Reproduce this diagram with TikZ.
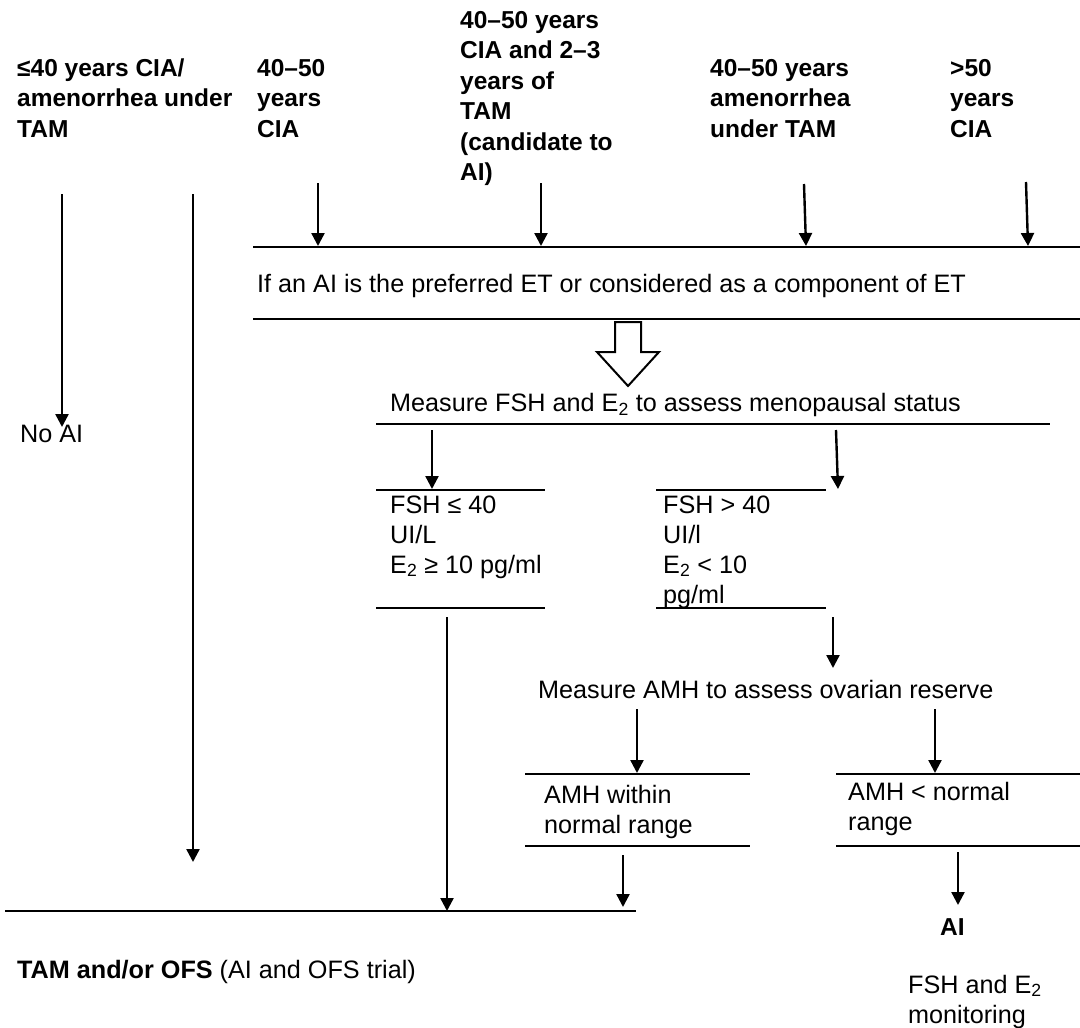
\documentclass[tikz,border=0pt]{standalone}
\usepackage{fontspec}
\setmainfont{Liberation Sans}
\usetikzlibrary{arrows.meta}
\newcommand\headfont{\fontsize{24.5}{30.5}\bfseries\selectfont}
\newcommand\bodyfont{\fontsize{25.2}{30}\selectfont}
% stacked lines whose reference point is the first baseline
\newcommand\lines[1]{\begin{tabular}[t]{@{}l@{}}#1\end{tabular}}
\begin{document}
\begin{tikzpicture}[x=1pt,y=-1pt,
  arr/.style={-{Triangle[length=13pt,width=13pt]}, line width=2.4pt},
  rule/.style={line width=2.2pt},
  hdr/.style={font=\headfont, anchor=base west, inner sep=0pt},
  txt/.style={font=\bodyfont, anchor=base west, inner sep=0pt}]
\useasboundingbox (0,0) rectangle (1080,1028);

% patient groups
\node[hdr] (g1) at (17,76)  {\lines{≤40 years CIA/\\amenorrhea under\\TAM}};
\node[hdr] (g2) at (257,76) {\lines{40–50\\years\\CIA}};
\node[hdr] (g3) at (460,28) {\lines{40–50 years\\CIA and 2–3\\years of\\TAM\\(candidate to\\AI)}};
\node[hdr] (g4) at (710,76) {\lines{40–50 years\\amenorrhea\\under TAM}};
\node[hdr] (g5) at (950,76) {\lines{>50\\years\\CIA}};

% AI decision band
\coordinate (bandTL) at (253,247);
\coordinate (bandTR) at (1080,247);
\coordinate (bandBL) at (253,319);
\coordinate (bandBR) at (1080,319);
\draw[rule] (bandTL) -- (bandTR);
\draw[rule] (bandBL) -- (bandBR);
\node[txt] (band) at (257,292) {If an AI is the preferred ET or considered as a component of ET};

\coordinate (a2s) at (318,183);  \coordinate (a2e) at (318,246);
\coordinate (a3s) at (541,183);  \coordinate (a3e) at (541,246);
\coordinate (a4s) at (804,184);  \coordinate (a4e) at (806,246);
\coordinate (a5s) at (1026,182); \coordinate (a5e) at (1028,246);
\draw[arr] (a2s) -- (a2e);
\draw[arr] (a3s) -- (a3e);
\draw[arr] (a4s) -- (a4e);
\draw[arr] (a5s) -- (a5e);

% left-hand pathways
\coordinate (l1s) at (62,194);  \coordinate (l1e) at (62,427);
\coordinate (l2s) at (193,194); \coordinate (l2e) at (193,862);
\draw[arr] (l1s) -- (l1e);
\draw[arr] (l2s) -- (l2e);
\node[txt] (noai) at (20,442) {No AI};

% hollow block arrow
\draw[line width=2pt, line join=miter, fill=white]
  (615,322) -- (641,322) -- (641,352) -- (659,352) -- (628,386)
  -- (597,352) -- (615,352) -- cycle;

% menopausal status
\node[txt] (fsh) at (390,411.5) {Measure FSH and E\textsubscript{2} to assess menopausal status};
\coordinate (fshL) at (376,424); \coordinate (fshR) at (1050,424);
\draw[rule] (fshL) -- (fshR);
\coordinate (f1s) at (432,430); \coordinate (f1e) at (432,489);
\coordinate (f2s) at (836,430); \coordinate (f2e) at (838,489);
\draw[arr] (f1s) -- (f1e);
\draw[arr] (f2s) -- (f2e);

% FSH <= 40 box
\coordinate (p1TL) at (376,490); \coordinate (p1TR) at (545,490);
\coordinate (p1BL) at (376,608); \coordinate (p1BR) at (545,608);
\draw[rule] (p1TL) -- (p1TR);
\draw[rule] (p1BL) -- (p1BR);
\node[txt] (pre) at (390,513) {\lines{FSH ≤ 40\\UI/L\\E\textsubscript{2} ≥ 10 pg/ml}};

% FSH > 40 box
\coordinate (p2TL) at (656,490); \coordinate (p2TR) at (826,490);
\coordinate (p2BL) at (656,608); \coordinate (p2BR) at (826,608);
\draw[rule] (p2TL) -- (p2TR);
\draw[rule] (p2BL) -- (p2BR);
\node[txt] (post) at (663,513) {\lines{FSH > 40\\UI/l\\E\textsubscript{2} < 10\\pg/ml}};

\coordinate (p1s) at (447,617); \coordinate (p1e) at (447,911);
\coordinate (p2s) at (833,617); \coordinate (p2e) at (833,668);
\draw[arr] (p1s) -- (p1e);
\draw[arr] (p2s) -- (p2e);

% ovarian reserve
\node[txt] (amh) at (538,698) {Measure AMH to assess ovarian reserve};
\coordinate (m1s) at (637,709); \coordinate (m1e) at (637,773);
\coordinate (m2s) at (935,709); \coordinate (m2e) at (935,773);
\draw[arr] (m1s) -- (m1e);
\draw[arr] (m2s) -- (m2e);

\coordinate (r1TL) at (525,774); \coordinate (r1TR) at (750,774);
\coordinate (r1BL) at (525,846); \coordinate (r1BR) at (750,846);
\draw[rule] (r1TL) -- (r1TR);
\draw[rule] (r1BL) -- (r1BR);
\node[txt] (normal) at (544,803) {\lines{AMH within\\normal range}};

\coordinate (r2TL) at (836,774); \coordinate (r2TR) at (1080,774);
\coordinate (r2BL) at (836,846); \coordinate (r2BR) at (1080,846);
\draw[rule] (r2TL) -- (r2TR);
\draw[rule] (r2BL) -- (r2BR);
\node[txt] (low) at (848,800) {\lines{AMH < normal\\range}};

\coordinate (n1s) at (623,855); \coordinate (n1e) at (623,907);
\coordinate (n2s) at (958,852); \coordinate (n2e) at (958,905);
\draw[arr] (n1s) -- (n1e);
\draw[arr] (n2s) -- (n2e);

% outcomes
\coordinate (outL) at (5,911); \coordinate (outR) at (636,911);
\draw[rule] (outL) -- (outR);
\node[txt] (tam) at (17,978) {\textbf{TAM and/or OFS} (AI and OFS trial)};
\node[txt, font=\headfont] (ai) at (940,935) {AI};
\node[txt] (mon) at (908,993) {\lines{FSH and E\textsubscript{2}\\monitoring}};
\end{tikzpicture}
\end{document}
